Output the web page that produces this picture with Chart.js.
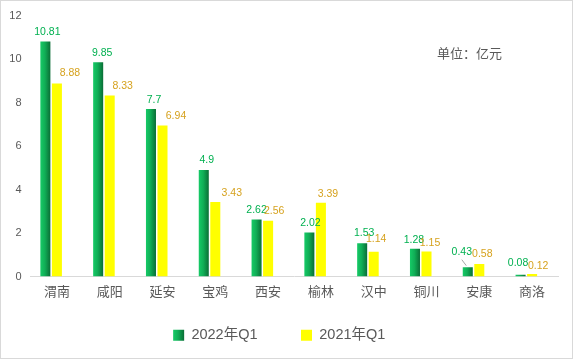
<!DOCTYPE html>
<html><head><meta charset="utf-8">
<script src="https://cdn.jsdelivr.net/npm/chart.js@4.4.1/dist/chart.umd.min.js"></script>
<style>html,body{margin:0;padding:0;background:#fff;overflow:hidden}#wrap{width:573px;height:359px}</style>
</head><body><div id="wrap"><canvas id="c" width="573" height="359"></canvas></div>
<script>
// ---- data ----
const categories = ['渭南','咸阳','延安','宝鸡','西安','榆林','汉中','铜川','安康','商洛'];
const series2022 = [10.81, 9.85, 7.7, 4.9, 2.62, 2.02, 1.53, 1.28, 0.43, 0.08];
const series2021 = [8.88, 8.33, 6.94, 3.43, 2.56, 3.39, 1.14, 1.15, 0.58, 0.12];
const seriesNames = ['2022年Q1', '2021年Q1'];
const yTicks = [0, 2, 4, 6, 8, 10, 12];
const unitText = '单位：亿元';

// ---- styling ----
const FONT = "'Liberation Sans','Noto Sans CJK SC',sans-serif";
const CAT_PCT = 0.655, BAR_PCT = 0.87;
const GREEN_TXT = '#00B050', GOLD_TXT = '#D6A21E';
// label nudges relative to each bar top-centre (style only)
const dx2022 = [2, 4, 3, 3, 0, 1, 2, -1, -6, -2.5];
const dy2022 = [-9.5, -9, -9, -10, -9, -9, -10.5, -9, -15.5, -12];
const dx2021 = [13, 13, 13.5, 16.5, 6, 7, 2.5, 3.5, 3, 6];
const dy2021 = [-10, -9, -10, -8.5, -10, -9, -12.5, -8, -10, -7.5];
const leader2022 = [false,false,false,false,false,false,false,false,true,false];

function greenGradient(c, x0, x1) {
  const g = c.createLinearGradient(x0, 0, x1, 0);
  g.addColorStop(0, '#16CA66');
  g.addColorStop(0.45, '#10AE56');
  g.addColorStop(1, '#0A6E36');
  return g;
}
function greenFill(ctx) {
  const chart = ctx.chart;
  const xs = chart.scales && chart.scales.x;
  if (!chart.chartArea || !xs || ctx.type !== 'data') return '#10AE56';
  const cw = xs.width / categories.length;
  const slot = cw * CAT_PCT / 3;
  const cx = xs.getPixelForValue(ctx.dataIndex) - slot;
  const w = slot * BAR_PCT;
  return greenGradient(chart.ctx, cx - w / 2, cx + w / 2);
}

const labelPlugin = {
  id: 'valueLabels',
  afterDatasetsDraw(chart) {
    const c = chart.ctx;
    c.save();
    c.font = '10.5px ' + FONT;
    c.textAlign = 'center';
    c.textBaseline = 'middle';
    const m0 = chart.getDatasetMeta(0), m1 = chart.getDatasetMeta(1);
    m0.data.forEach((el, i) => {
      const lx = el.x + dx2022[i], ly = el.y + dy2022[i];
      if (leader2022[i]) {
        c.strokeStyle = '#A6A6A6'; c.lineWidth = 1;
        c.beginPath(); c.moveTo(lx, ly + 8); c.lineTo(el.x - 1.5, el.y - 1.5); c.stroke();
      }
      c.fillStyle = GREEN_TXT;
      c.fillText(String(series2022[i]), lx, ly);
    });
    m1.data.forEach((el, i) => {
      c.fillStyle = GOLD_TXT;
      c.fillText(String(series2021[i]), el.x + dx2021[i], el.y + dy2021[i]);
    });
    c.restore();
  }
};
const decoPlugin = {
  id: 'deco',
  beforeDraw(chart) {
    const lg = chart.legend;
    if (lg && lg.legendHitBoxes && lg.legendHitBoxes[0] && lg.legendItems[0]) {
      const hb = lg.legendHitBoxes[0];
      lg.legendItems[0].fillStyle = greenGradient(chart.ctx, hb.left, hb.left + 11);
    }
  },
  afterDraw(chart) {
    const c = chart.ctx;
    c.save();
    c.font = '13px ' + FONT;
    c.fillStyle = '#595959';
    c.textAlign = 'left';
    c.textBaseline = 'middle';
    c.fillText(unitText, 437, 54);
    c.strokeStyle = '#D9D9D9';
    c.lineWidth = 1;
    c.strokeRect(0.5, 0.5, 572, 358);
    c.restore();
  }
};

new Chart(document.getElementById('c'), {
  type: 'bar',
  data: {
    labels: categories,
    datasets: [
      { label: seriesNames[0], data: series2022, backgroundColor: greenFill, borderWidth: 0 },
      { label: seriesNames[1], data: series2021, backgroundColor: '#FFFF00', borderWidth: 0 },
      { label: '', data: [], backgroundColor: 'rgba(0,0,0,0)' }
    ]
  },
  options: {
    responsive: false,
    devicePixelRatio: 1,
    animation: false,
    categoryPercentage: CAT_PCT,
    barPercentage: BAR_PCT,
    layout: { padding: { left: 0, right: 14.5, top: 14, bottom: 6.5 } },
    plugins: {
      tooltip: { enabled: false },
      legend: {
        position: 'bottom',
        labels: {
          boxWidth: 11, boxHeight: 11, padding: 43.5,
          color: '#595959', font: { size: 14.5, family: FONT },
          filter: item => item.datasetIndex < 2
        }
      }
    },
    scales: {
      x: {
        grid: { display: false, drawTicks: false },
        border: { display: true, color: '#D9D9D9', width: 1 },
        ticks: { color: '#595959', font: { size: 13, family: FONT }, padding: -23.4, mirror: true, maxRotation: 0 },
        afterFit(s) { s.height = 8; }
      },
      y: {
        min: 0, max: 12,
        grid: { display: false, drawTicks: false },
        border: { display: false },
        ticks: { color: '#595959', font: { size: 11, family: FONT }, padding: 9 },
        afterBuildTicks(s) { s.ticks = yTicks.map(v => ({ value: v })); },
        afterFit(s) { s.width = 30.5; }
      }
    }
  },
  plugins: [labelPlugin, decoPlugin]
});
</script></body></html>
